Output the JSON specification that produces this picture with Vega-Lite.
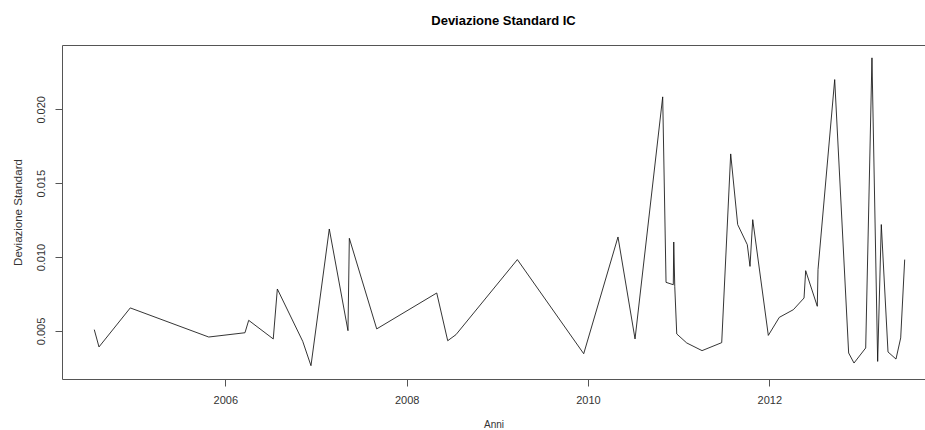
{
  "$schema": "https://vega.github.io/schema/vega-lite/v6.json",
  "width": 863,
  "height": 334,
  "autosize": {"type": "none"},
  "padding": {"left": 62, "top": 45, "right": 0, "bottom": 51},
  "background": "white",
  "title": {"text": "Deviazione Standard IC", "font": "Liberation Sans", "fontSize": 13, "fontWeight": "bold", "color": "#000", "anchor": "middle", "offset": 17, "dx": 10},
  "config": {
    "view": {"stroke": null},
    "axis": {
      "labelFont": "Liberation Sans", "labelFontSize": 11, "labelColor": "#333",
      "titleFont": "Liberation Sans", "titleFontSize": 11.5, "titleFontWeight": "normal", "titleColor": "#333",
      "domainColor": "#555", "tickColor": "#555", "tickSize": 7, "grid": false,
      "domainWidth": 1, "tickWidth": 1
    }
  },
  "data": {"values": [
    {"anno": 2004.555, "sd": 0.00509},
    {"anno": 2004.607, "sd": 0.00392},
    {"anno": 2004.952, "sd": 0.00656},
    {"anno": 2005.817, "sd": 0.00459},
    {"anno": 2006.217, "sd": 0.00488},
    {"anno": 2006.258, "sd": 0.00572},
    {"anno": 2006.529, "sd": 0.00446},
    {"anno": 2006.574, "sd": 0.00784},
    {"anno": 2006.854, "sd": 0.0043},
    {"anno": 2006.945, "sd": 0.00265},
    {"anno": 2007.147, "sd": 0.0119},
    {"anno": 2007.353, "sd": 0.00502},
    {"anno": 2007.368, "sd": 0.01127},
    {"anno": 2007.670, "sd": 0.00514},
    {"anno": 2008.332, "sd": 0.00757},
    {"anno": 2008.453, "sd": 0.00434},
    {"anno": 2008.544, "sd": 0.00475},
    {"anno": 2009.221, "sd": 0.00983},
    {"anno": 2009.953, "sd": 0.00346},
    {"anno": 2010.331, "sd": 0.01136},
    {"anno": 2010.519, "sd": 0.00446},
    {"anno": 2010.824, "sd": 0.02084},
    {"anno": 2010.861, "sd": 0.00829},
    {"anno": 2010.941, "sd": 0.00813},
    {"anno": 2010.946, "sd": 0.01102},
    {"anno": 2010.957, "sd": 0.00802},
    {"anno": 2010.979, "sd": 0.0048},
    {"anno": 2011.089, "sd": 0.00419},
    {"anno": 2011.258, "sd": 0.00367},
    {"anno": 2011.475, "sd": 0.00421},
    {"anno": 2011.574, "sd": 0.01698},
    {"anno": 2011.651, "sd": 0.0122},
    {"anno": 2011.757, "sd": 0.01084},
    {"anno": 2011.787, "sd": 0.00937},
    {"anno": 2011.817, "sd": 0.01253},
    {"anno": 2011.989, "sd": 0.0047},
    {"anno": 2012.110, "sd": 0.00592},
    {"anno": 2012.265, "sd": 0.00644},
    {"anno": 2012.383, "sd": 0.00723},
    {"anno": 2012.401, "sd": 0.00908},
    {"anno": 2012.529, "sd": 0.00667},
    {"anno": 2012.537, "sd": 0.00915},
    {"anno": 2012.721, "sd": 0.02201},
    {"anno": 2012.875, "sd": 0.00351},
    {"anno": 2012.934, "sd": 0.00283},
    {"anno": 2013.063, "sd": 0.00385},
    {"anno": 2013.132, "sd": 0.02348},
    {"anno": 2013.195, "sd": 0.00294},
    {"anno": 2013.235, "sd": 0.0122},
    {"anno": 2013.309, "sd": 0.00358},
    {"anno": 2013.397, "sd": 0.0031},
    {"anno": 2013.449, "sd": 0.00453},
    {"anno": 2013.493, "sd": 0.00983}
  ]},
  "encoding": {
    "y": {
      "field": "sd", "type": "quantitative",
      "scale": {"domain": [0.00175, 0.02435], "nice": false, "zero": false},
      "axis": {"values": [0.005, 0.01, 0.015, 0.02], "format": ".3f", "labelAngle": -90, "labelPadding": 9, "title": "Deviazione Standard", "titlePadding": 12}
    }
  },
  "resolve": {"axis": {"x": "independent"}},
  "layer": [
    {
      "mark": {"type": "line", "color": "#111", "strokeWidth": 0.85, "clip": true},
      "encoding": {
        "x": {
          "field": "anno", "type": "quantitative",
          "scale": {"domain": [2004.199, 2013.717], "nice": false, "zero": false},
          "axis": {"orient": "bottom", "values": [2006, 2008, 2010, 2012], "format": "d", "labelPadding": 8, "title": "Anni", "titleFontSize": 10, "titlePadding": 14, "labelFlush": false}
        }
      }
    },
    {
      "mark": {"type": "line", "opacity": 0},
      "encoding": {
        "x": {
          "field": "anno", "type": "quantitative",
          "axis": {"orient": "top", "labels": false, "ticks": false, "title": null, "domain": true}
        }
      }
    }
  ]
}
